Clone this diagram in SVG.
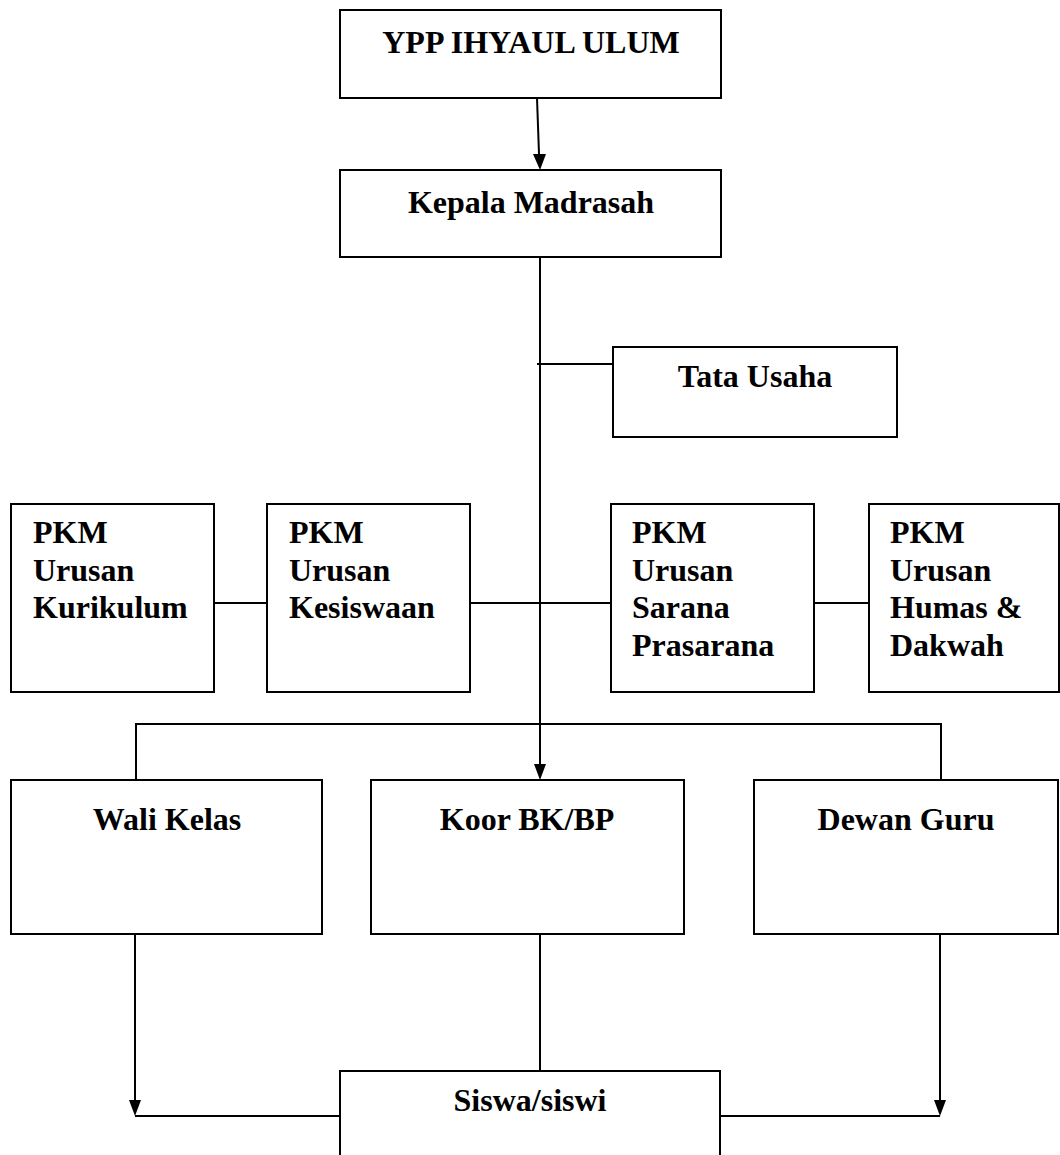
<svg xmlns="http://www.w3.org/2000/svg" width="1060" height="1155" viewBox="0 0 1060 1155">
<style>
.box{fill:#fff;stroke:#000;stroke-width:2}
.t{font-family:"Liberation Serif","Times New Roman",serif;font-weight:bold;font-size:32px;fill:#000}
.c{text-anchor:middle}
.ln{stroke:#000;stroke-width:2;fill:none}
.ah{fill:#000}
</style>
<rect width="1060" height="1155" fill="#fff"/>
<g id="connectors">
<path class="ln" d="M537,98 L539,154"/>
<path class="ah" d="M533,154 L546,154 L540,170 Z"/>
<path class="ln" d="M540,257 L540,764"/>
<path class="ah" d="M534,764 L546,764 L540,780 Z"/>
<path class="ln" d="M537,364 L613,364"/>
<path class="ln" d="M214,603 L267,603"/>
<path class="ln" d="M470,603 L611,603"/>
<path class="ln" d="M814,603 L869,603"/>
<path class="ln" d="M136,780 L136,724 L941,724 L941,780"/>
<path class="ln" d="M540,934 L540,1071"/>
<path class="ln" d="M135,934 L135,1100"/>
<path class="ah" d="M129,1100 L141,1100 L135,1116 Z"/>
<path class="ln" d="M135,1116 L340,1116"/>
<path class="ln" d="M940,934 L940,1100"/>
<path class="ah" d="M934,1100 L946,1100 L940,1116 Z"/>
<path class="ln" d="M720,1116 L940,1116"/>
</g>
<g id="ypp"><rect class="box" x="340" y="10" width="381" height="88"/><text class="t c" x="531" y="53">YPP IHYAUL ULUM</text></g>
<g id="kepala"><rect class="box" x="340" y="170" width="381" height="87"/><text class="t c" x="531" y="213">Kepala Madrasah</text></g>
<g id="tatausaha"><rect class="box" x="613" y="347" width="284" height="90"/><text class="t c" x="755" y="387">Tata Usaha</text></g>
<g id="kurikulum"><rect class="box" x="11" y="504" width="203" height="188"/><text class="t" x="33" y="543">PKM</text><text class="t" x="33" y="581">Urusan</text><text class="t" x="33" y="618">Kurikulum</text></g>
<g id="kesiswaan"><rect class="box" x="267" y="504" width="203" height="188"/><text class="t" x="289" y="543">PKM</text><text class="t" x="289" y="581">Urusan</text><text class="t" x="289" y="618">Kesiswaan</text></g>
<g id="sarana"><rect class="box" x="611" y="504" width="203" height="188"/><text class="t" x="632" y="543">PKM</text><text class="t" x="632" y="581">Urusan</text><text class="t" x="632" y="618">Sarana</text><text class="t" x="632" y="656">Prasarana</text></g>
<g id="humas"><rect class="box" x="869" y="504" width="190" height="188"/><text class="t" x="890" y="543">PKM</text><text class="t" x="890" y="581">Urusan</text><text class="t" x="890" y="618">Humas &amp;</text><text class="t" x="890" y="656">Dakwah</text></g>
<g id="walikelas"><rect class="box" x="11" y="780" width="311" height="154"/><text class="t c" x="167" y="830">Wali Kelas</text></g>
<g id="koor"><rect class="box" x="371" y="780" width="313" height="154"/><text class="t c" x="527" y="830">Koor BK/BP</text></g>
<g id="dewanguru"><rect class="box" x="754" y="780" width="304" height="154"/><text class="t c" x="906" y="830">Dewan Guru</text></g>
<g id="siswa"><rect class="box" x="340" y="1071" width="380" height="100"/><text class="t c" x="530" y="1111">Siswa/siswi</text></g>
</svg>
